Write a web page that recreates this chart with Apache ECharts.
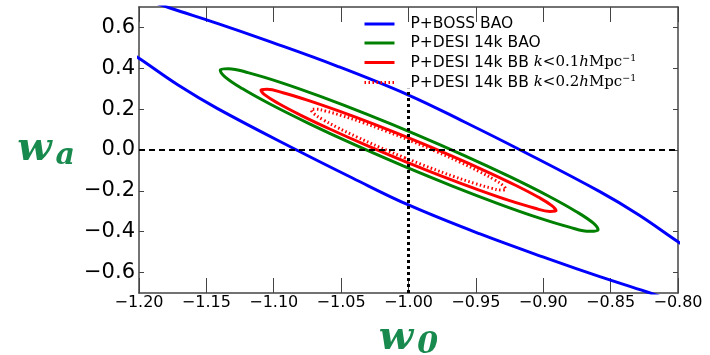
<!DOCTYPE html>
<html>
<head>
<meta charset="utf-8">
<script src="https://cdn.jsdelivr.net/npm/echarts@6/dist/echarts.min.js"></script>
<style>html,body{margin:0;padding:0;background:#fff;}#c{width:710px;height:355px;}</style>
</head>
<body>
<div id="c"></div>
<script>
// ---- data ----
const xTicks = [-1.20, -1.15, -1.10, -1.05, -1.00, -0.95, -0.90, -0.85, -0.80];
const yTicks = [-0.6, -0.4, -0.2, 0.0, 0.2, 0.4, 0.6];
const seriesNames = ['P+BOSS BAO', 'P+DESI 14k BAO', 'P+DESI 14k BB k<0.1hMpc^-1', 'P+DESI 14k BB k<0.2hMpc^-1'];

// P+BOSS BAO : upper and lower branches of a large contour (partly outside frame)
const bossUpper = [[-1.19,0.725],[-1.1765,0.694],[-1.1414,0.619],[-1.106,0.538],[-1.0531,0.411],[-1.0,0.269],[-0.9584,0.137],[-0.917,0.0],[-0.858,-0.204],[-0.829,-0.318],[-0.80,-0.449],[-0.79,-0.49]];
const bossLower = [[-1.21,0.49],[-1.20,0.449],[-1.171,0.318],[-1.142,0.204],[-1.083,0.0],[-1.0416,-0.137],[-1.0,-0.269],[-0.9469,-0.411],[-0.894,-0.538],[-0.8586,-0.619],[-0.8235,-0.694],[-0.81,-0.725]];

// P+DESI 14k BAO contour
const desiBao = [[-1.0044,-0.0767],[-1.0405,0.0273],[-1.0738,0.1294],[-1.1021,0.2227],[-1.1234,0.3008],[-1.1362,0.3584],[-1.1397,0.3916],[-1.1336,0.3981],[-1.1185,0.3775],[-1.0951,0.3311],[-1.0654,0.2622],[-1.0311,0.1754],[-0.9946,0.0767],[-0.9585,-0.0273],[-0.9252,-0.1294],[-0.8969,-0.2227],[-0.8757,-0.3008],[-0.8628,-0.3584],[-0.8593,-0.3916],[-0.8654,-0.3981],[-0.8806,-0.3775],[-0.9039,-0.3311],[-0.9336,-0.2622],[-0.9679,-0.1754],[-1.0044,-0.0767]];

// P+DESI 14k BB k<0.1 contour
const desiBB1 = [[-1.0033,-0.0545],[-1.0315,0.0238],[-1.0576,0.1003],[-1.0798,0.1698],[-1.0965,0.2275],[-1.1066,0.2696],[-1.1095,0.2935],[-1.1049,0.2968],[-1.0932,0.2800],[-1.0751,0.2441],[-1.0519,0.1912],[-1.0252,0.1252],[-0.9967,0.0505],[-0.9685,-0.0278],[-0.9424,-0.1043],[-0.9202,-0.1738],[-0.9035,-0.2315],[-0.8934,-0.2736],[-0.8905,-0.2975],[-0.8951,-0.3008],[-0.9068,-0.2840],[-0.9249,-0.2481],[-0.9481,-0.1952],[-0.9749,-0.1292],[-1.0033,-0.0545]];

// P+DESI 14k BB k<0.2 contour
const desiBB2 = [[-1.0025,-0.0388],[-1.0211,0.0128],[-1.0383,0.0637],[-1.0528,0.1103],[-1.0638,0.1496],[-1.0704,0.1788],[-1.0722,0.1960],[-1.0691,0.2000],[-1.0613,0.1904],[-1.0493,0.1680],[-1.0339,0.1343],[-1.0163,0.0916],[-0.9975,0.0428],[-0.9789,-0.0088],[-0.9617,-0.0597],[-0.9472,-0.1063],[-0.9362,-0.1456],[-0.9296,-0.1748],[-0.9278,-0.1920],[-0.9309,-0.1959],[-0.9387,-0.1864],[-0.9507,-0.1640],[-0.9661,-0.1303],[-0.9837,-0.0876],[-1.0025,-0.0388]];

// fiducial reference lines
const refW0 = -1.0;
const refWa = 0.0;
const refW0Top = 0.30;

// ---- chart ----
const GREEN_T = '#188a4e';
const fmtMinus = s => s.replace('-', '\u2212');
const legendRich = {
  'P+BOSS BAO': '{t|P+BOSS BAO}',
  'P+DESI 14k BAO': '{t|P+DESI 14k BAO}',
  'P+DESI 14k BB k<0.1hMpc^-1': '{t|P+DESI 14k BB }{i|k}{m|<0.1}{i|h}{m|Mpc}{sup|\u22121}',
  'P+DESI 14k BB k<0.2hMpc^-1': '{t|P+DESI 14k BB }{i|k}{m|<0.2}{i|h}{m|Mpc}{sup|\u22121}'
};

const bossData = bossUpper.concat([['-', '-']], bossLower);

const titleRich = {
  w: {fontFamily: 'DejaVu Serif', fontStyle: 'italic', fontWeight: 'bold', fontSize: 40, color: GREEN_T},
  s: {fontFamily: 'DejaVu Serif', fontStyle: 'italic', fontWeight: 'bold', fontSize: 30, color: GREEN_T, padding: [12, 0, 0, 4]}
};

const axisLineStyle = {show: true, onZero: false, lineStyle: {color: '#444', width: 1.5}};
const chart = echarts.init(document.getElementById('c'), null, {renderer: 'canvas'});
chart.setOption({
  animation: false,
  backgroundColor: '#fff',
  grid: {left: 139, right: 32, top: 7, bottom: 62, outerBoundsMode: 'none', containLabel: false},
  legend: {
    data: seriesNames,
    orient: 'vertical',
    left: 363, top: 16, padding: 0,
    itemWidth: 30, itemHeight: 12, itemGap: 3,
    itemStyle: {opacity: 0},
    lineStyle: {width: 3},
    textStyle: {fontFamily: 'DejaVu Sans', fontSize: 15.5, color: '#000', lineHeight: 14, padding: [0,0,0,11],
      rich: {
        t: {fontFamily: 'DejaVu Sans', fontSize: 15.5, lineHeight: 14},
        i: {fontFamily: 'DejaVu Serif', fontStyle: 'italic', fontSize: 15, lineHeight: 14},
        m: {fontFamily: 'DejaVu Serif', fontSize: 15, lineHeight: 14},
        sup: {fontFamily: 'DejaVu Serif', fontSize: 9.5, lineHeight: 7, padding: [0,0,7,0]}
      }},
    formatter: name => legendRich[name]
  },
  xAxis: [
    {type: 'value', min: -1.2, max: -0.8, position: 'bottom',
     axisLine: axisLineStyle,
     axisTick: {show: true, inside: true, length: 15, customValues: xTicks, lineStyle: {color: '#444', width: 1}},
     axisLabel: {customValues: xTicks, fontFamily: 'DejaVu Sans', fontSize: 16, color: '#000', margin: 2,
                 formatter: v => fmtMinus(v.toFixed(2))},
     splitLine: {show: false},
     name: '{w|w}{s|0}', nameLocation: 'middle', nameGap: 25,
     nameTextStyle: {rich: titleRich}},
    {type: 'value', min: -1.2, max: -0.8, position: 'top',
     axisLine: axisLineStyle,
     axisTick: {show: true, inside: true, length: 15, customValues: xTicks, lineStyle: {color: '#444', width: 1}},
     axisLabel: {show: false}, splitLine: {show: false}}
  ],
  yAxis: [
    {type: 'value', min: -0.7, max: 0.7, position: 'left',
     axisLine: axisLineStyle,
     axisTick: {show: true, inside: true, length: 5, customValues: yTicks, lineStyle: {color: '#444', width: 1}},
     axisLabel: {customValues: yTicks, fontFamily: 'DejaVu Sans', fontSize: 21, color: '#000', margin: 4,
                 formatter: v => fmtMinus(v.toFixed(1))},
     splitLine: {show: false},
     name: '{w|w}{s|a}', nameLocation: 'middle', nameRotate: 0, nameGap: 64,
     nameTextStyle: {rich: titleRich}},
    {type: 'value', min: -0.7, max: 0.7, position: 'right',
     axisLine: axisLineStyle,
     axisTick: {show: true, inside: true, length: 5, customValues: yTicks, lineStyle: {color: '#444', width: 1}},
     axisLabel: {show: false}, splitLine: {show: false}}
  ],
  series: [
    {name: 'ref', type: 'line', data: [], symbol: 'none', silent: true, z: 1,
     markLine: {silent: true, symbol: 'none', label: {show: false}, animation: false,
       data: [
         [{coord: [-1.2, refWa], lineStyle: {type: [6, 4], width: 2, color: '#000'}}, {coord: [-0.8, refWa]}],
         [{coord: [refW0, -0.7], lineStyle: {type: [3, 3], width: 3, color: '#000'}}, {coord: [refW0, refW0Top]}]
       ]}},
    {name: seriesNames[0], type: 'line', data: bossData, symbol: 'none', smooth: 0.4, connectNulls: false,
     lineStyle: {color: '#0000ff', width: 3}, itemStyle: {color: '#0000ff'}, z: 3},
    {name: seriesNames[1], type: 'line', data: desiBao, symbol: 'none', smooth: 0.4,
     lineStyle: {color: '#008000', width: 3}, itemStyle: {color: '#008000'}, z: 3},
    {name: seriesNames[2], type: 'line', data: desiBB1, symbol: 'none', smooth: 0.4,
     lineStyle: {color: '#ff0000', width: 3}, itemStyle: {color: '#ff0000'}, z: 3},
    {name: seriesNames[3], type: 'line', data: desiBB2, symbol: 'none', smooth: 0.4,
     lineStyle: {color: '#ff0000', width: 3, type: [1.5, 2.5]}, itemStyle: {color: '#ff0000'}, z: 3}
  ]
});
</script>
</body>
</html>
